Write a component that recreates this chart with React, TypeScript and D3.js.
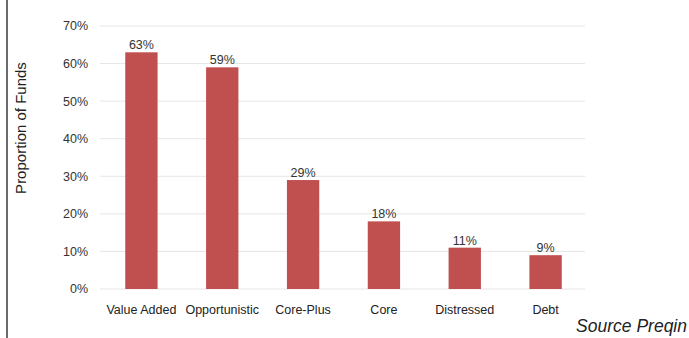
import React from "react";
import * as d3 from "d3";

const categories = ["Value Added", "Opportunistic", "Core-Plus", "Core", "Distressed", "Debt"];
const values = [63, 59, 29, 18, 11, 9];
const yTicks = [0, 10, 20, 30, 40, 50, 60, 70];

const W = 689;
const H = 338;
const left = 100;
const right = 585;
const top = 26;
const bottom = 289;

export default function App() {
  const x = d3.scaleBand<string>().domain(categories).range([left, right]).paddingInner(0.6).paddingOuter(0.3);
  const y = d3.scaleLinear().domain([0, 70]).range([bottom, top]);
  const font = "Arial, 'Liberation Sans', Helvetica, sans-serif";
  return (
    <svg width={W} height={H} style={{ position: "absolute", left: 0, top: 0, background: "#fff" }} fontFamily={font}>
      <line x1={7} x2={7} y1={0} y2={H} stroke="#6b6b6b" strokeWidth={2} />
      {yTicks.map((t) => (
        <g key={t}>
          <line x1={left} x2={right} y1={y(t)} y2={y(t)} stroke="#e6e6e6" strokeWidth={1} />
          <text x={88} y={y(t)} dy="0.35em" textAnchor="end" fontSize={12.5} fill="#333">{t}%</text>
        </g>
      ))}
      {categories.map((c, i) => (
        <g key={c}>
          <rect x={(x(c) as number) + 1} y={y(values[i])} width={x.bandwidth()} height={bottom - y(values[i])} fill="#c0504f" />
          <text x={(x(c) as number) + 1 + x.bandwidth() / 2} y={y(values[i]) - 3} textAnchor="middle" fontSize={12.5} fill="#333">{values[i]}%</text>
          <text x={(x(c) as number) + 1 + x.bandwidth() / 2} y={314} textAnchor="middle" fontSize={12.5} fill="#222">{c}</text>
        </g>
      ))}
      <text transform={`translate(26,128) rotate(-90)`} textAnchor="middle" fontSize={15} fill="#222">Proportion of Funds</text>
      <text x={687} y={332} textAnchor="end" fontSize={17.5} fontStyle="italic" fill="#222">Source Preqin</text>
    </svg>
  );
}
